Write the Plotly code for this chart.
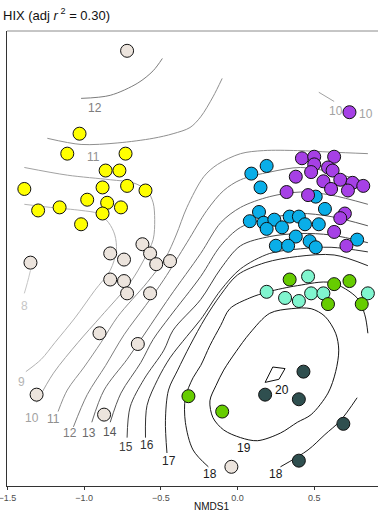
import plotly.graph_objects as go

# ---- site scores (NMDS1, NMDS2) by group ----
yellow_x = [-1.03, -1.11, -0.73, -0.86, -0.77, -1.39, -0.88, -0.72, -0.60, -0.98, -0.85, -0.76, -1.30, -1.16, -0.88, -1.02]
yellow_y = [0.81, 0.68, 0.68, 0.57, 0.57, 0.45, 0.46, 0.47, 0.44, 0.38, 0.36, 0.33, 0.31, 0.33, 0.29, 0.22]
beige_x = [-0.72, -1.35, -0.83, -0.74, -0.62, -0.57, -0.53, -0.44, -0.83, -0.74, -0.72, -0.57, -0.90, -0.65, -1.31, -0.87, -0.04]
beige_y = [1.35, -0.03, 0.03, -0.01, 0.09, 0.03, -0.04, -0.02, -0.14, -0.15, -0.23, -0.23, -0.49, -0.56, -0.89, -1.02, -1.36]
blue_x = [0.09, 0.19, 0.15, 0.51, 0.14, 0.57, 0.08, 0.17, 0.24, 0.34, 0.40, 0.19, 0.29, 0.44, 0.53, 0.38, 0.25, 0.33, 0.47, 0.51, 0.78]
blue_y = [0.55, 0.60, 0.46, 0.40, 0.30, 0.32, 0.24, 0.23, 0.25, 0.27, 0.27, 0.19, 0.20, 0.22, 0.22, 0.14, 0.08, 0.08, 0.11, 0.07, 0.12]
purple_x = [0.42, 0.50, 0.63, 0.50, 0.48, 0.59, 0.62, 0.38, 0.56, 0.67, 0.75, 0.82, 0.61, 0.72, 0.32, 0.46, 0.70, 0.67, 0.63, 0.71, 0.73]
purple_y = [0.65, 0.66, 0.66, 0.61, 0.56, 0.59, 0.57, 0.53, 0.50, 0.51, 0.49, 0.47, 0.45, 0.44, 0.43, 0.41, 0.29, 0.26, 0.17, 0.08, 0.95]
aqua_x = [0.46, 0.19, 0.31, 0.40, 0.48, 0.56, 0.85]
aqua_y = [-0.12, -0.22, -0.26, -0.28, -0.23, -0.23, -0.23]
green_x = [0.34, 0.63, 0.73, 0.59, 0.81, -0.32, -0.10]
green_y = [-0.14, -0.17, -0.15, -0.30, -0.30, -0.90, -1.00]
dark_x = [0.43, 0.18, 0.40, 0.69, 0.40]
dark_y = [-0.74, -0.89, -0.92, -1.08, -1.32]

# ---- fitted HIX surface: contour lines (level, NMDS1, NMDS2) ----
c8_x = [-1.35, -1.37, -1.39]
c8_y = [-0.08, -0.16, -0.23]
c9_x = [-1.39, -1.22, -1.02, -0.91, -0.84, -0.80, -0.79, -0.83, -0.93, -1.06, -1.19, -1.28, -1.38]
c9_y = [0.35, 0.33, 0.31, 0.29, 0.23, 0.15, 0.05, -0.08, -0.21, -0.39, -0.55, -0.66, -0.74]
c10a_x = [-1.39, -1.11, -0.83, -0.68, -0.59, -0.55, -0.54, -0.55, -0.61, -0.70, -0.89, -1.04, -1.20, -1.31]
c10a_y = [0.59, 0.54, 0.51, 0.49, 0.44, 0.36, 0.25, 0.12, -0.01, -0.16, -0.38, -0.55, -0.75, -0.94]
c10b_x = [0.53, 0.63]
c10b_y = [1.08, 1.02]
c11a_x = [-1.24, -1.02, -0.78, -0.55, -0.42, -0.31, -0.24, -0.16, -0.10]
c11a_y = [0.78, 0.74, 0.75, 0.78, 0.81, 0.85, 0.92, 1.05, 1.17]
c11b_x = [-1.17, -1.11, -1.00, -0.89, -0.78, -0.59, -0.47, -0.40, -0.33, -0.22, -0.13, 0.02, 0.17, 0.39, 0.61, 0.85]
c11b_y = [-1.00, -0.86, -0.71, -0.55, -0.38, -0.16, 0.00, 0.15, 0.33, 0.53, 0.61, 0.68, 0.70, 0.70, 0.69, 0.68]
c12a_x = [-1.02, -0.83, -0.65, -0.55, -0.49]
c12a_y = [1.04, 1.06, 1.14, 1.22, 1.30]
c12b_x = [-1.07, -0.98, -0.86, -0.74, -0.60, -0.48, -0.33, -0.20, -0.09, 0.02, 0.21, 0.41, 0.61, 0.85]
c12b_y = [-1.10, -0.89, -0.70, -0.50, -0.31, -0.14, 0.10, 0.31, 0.44, 0.51, 0.56, 0.59, 0.56, 0.49]
c13_x = [-0.95, -0.87, -0.72, -0.63, -0.44, -0.24, -0.11, 0.02, 0.21, 0.41, 0.61, 0.85]
c13_y = [-1.07, -0.86, -0.66, -0.53, -0.25, 0.03, 0.23, 0.33, 0.40, 0.43, 0.41, 0.35]
c14_x = [-0.83, -0.76, -0.63, -0.55, -0.44, -0.24, -0.11, 0.02, 0.21, 0.41, 0.61, 0.85]
c14_y = [-1.07, -0.88, -0.68, -0.53, -0.38, -0.12, 0.08, 0.20, 0.26, 0.29, 0.27, 0.21]
c15_x = [-0.72, -0.70, -0.61, -0.48, -0.42, -0.24, -0.11, 0.02, 0.21, 0.41, 0.61, 0.85]
c15_y = [-1.17, -0.97, -0.79, -0.60, -0.47, -0.27, -0.07, 0.08, 0.14, 0.16, 0.15, 0.10]
c16_x = [-0.60, -0.59, -0.52, -0.44, -0.33, -0.24, -0.11, 0.02, 0.21, 0.41, 0.61, 0.85]
c16_y = [-1.17, -0.96, -0.79, -0.65, -0.51, -0.40, -0.21, -0.07, 0.03, 0.06, 0.07, 0.04]
c17_x = [-0.46, -0.47, -0.45, -0.39, -0.31, -0.21, -0.11, 0.00, 0.18, 0.39, 0.63, 0.85]
c17_y = [-1.27, -1.06, -0.86, -0.73, -0.57, -0.39, -0.24, -0.11, -0.03, 0.01, 0.02, -0.05]
c18a_x = [-0.19, -0.29, -0.34, -0.34, -0.29, -0.24, -0.18, -0.11, -0.05, 0.08, 0.20, 0.39, 0.61, 0.78, 0.83, 0.85]
c18a_y = [-1.36, -1.25, -1.07, -0.91, -0.78, -0.70, -0.57, -0.44, -0.33, -0.26, -0.22, -0.18, -0.16, -0.26, -0.37, -0.49]
c18b_x = [0.28, 0.46, 0.57, 0.67, 0.78]
c18b_y = [-1.36, -1.25, -1.15, -1.06, -0.91]
c19_x = [0.21, 0.35, 0.48, 0.57, 0.64, 0.66, 0.64, 0.59, 0.48, 0.39, 0.28, 0.13, 0.02, -0.09, -0.16, -0.18, -0.14, -0.09, -0.01, 0.08, 0.21]
c19_y = [-0.36, -0.33, -0.33, -0.38, -0.49, -0.60, -0.74, -0.88, -1.02, -1.07, -1.14, -1.19, -1.17, -1.12, -1.04, -0.93, -0.83, -0.73, -0.61, -0.49, -0.36]
c20_x = [0.18, 0.23, 0.31, 0.27, 0.18]
c20_y = [-0.81, -0.71, -0.72, -0.79, -0.81]

contours = [
    (8, c8_x, c8_y), (9, c9_x, c9_y), (10, c10a_x, c10a_y), (10, c10b_x, c10b_y),
    (11, c11a_x, c11a_y), (11, c11b_x, c11b_y), (12, c12a_x, c12a_y), (12, c12b_x, c12b_y),
    (13, c13_x, c13_y), (14, c14_x, c14_y), (15, c15_x, c15_y), (16, c16_x, c16_y),
    (17, c17_x, c17_y), (18, c18a_x, c18a_y), (18, c18b_x, c18b_y), (19, c19_x, c19_y),
    (20, c20_x, c20_y),
]

# ---- contour labels ----
label_text = ["12", "11", "10", "10", "8", "9", "10", "11", "12", "13", "14", "15", "16", "17", "18", "18", "19", "20"]
label_level = [12, 11, 10, 10, 8, 9, 10, 11, 12, 13, 14, 15, 16, 17, 18, 18, 19, 20]
label_x = [-0.93, -0.94, 0.64, 0.84, -1.39, -1.41, -1.34, -1.20, -1.09, -0.97, -0.83, -0.73, -0.59, -0.45, -0.18, 0.25, 0.04, 0.29]
label_y = [0.98, 0.66, 0.96, 0.94, -0.31, -0.81, -1.04, -1.05, -1.14, -1.14, -1.13, -1.23, -1.22, -1.32, -1.41, -1.41, -1.24, -0.86]

tick_vals = [-1.5, -1.0, -0.5, 0.0, 0.5]
tick_text = ["\u22121.5", "\u22121.0", "\u22120.5", "0.0", "0.5"]

level_color = {8: "#c6c6c6", 9: "#b3b3b3", 10: "#a2a2a2", 11: "#8f8f8f", 12: "#7d7d7d",
               13: "#6a6a6a", 14: "#565656", 15: "#404040", 16: "#313131", 17: "#232323",
               18: "#1a1a1a", 19: "#141414", 20: "#0e0e0e"}

FONT = "Liberation Sans, Arial, Helvetica, sans-serif"

fig = go.Figure()

for lev, xs, ys in contours:
    fig.add_trace(go.Scatter(
        x=xs, y=ys, mode="lines",
        line=dict(color=level_color[lev], width=1,
                  shape="linear" if lev == 20 else "spline", smoothing=0.9),
        hoverinfo="skip", showlegend=False))

groups = [
    (blue_x, blue_y, "#0aaee8"),
    (purple_x, purple_y, "#a640e6"),
    (aqua_x, aqua_y, "#80f5cf"),
    (green_x, green_y, "#66cc00"),
    (dark_x, dark_y, "#2f4f4f"),
    (yellow_x, yellow_y, "#ffff00"),
    (beige_x, beige_y, "#ece4dd"),
]
for xs, ys, col in groups:
    fig.add_trace(go.Scatter(
        x=xs, y=ys, mode="markers",
        marker=dict(size=13, color=col, line=dict(color="#111111", width=1)),
        showlegend=False))

for t, lev, x, y in zip(label_text, label_level, label_x, label_y):
    fig.add_annotation(x=x, y=y, text=t, showarrow=False, xanchor="center", yanchor="middle",
                       font=dict(size=12, color=level_color[lev], family=FONT))

fig.add_annotation(x=-0.17, y=-0.044, xref="x", yref="paper", text="NMDS1", showarrow=False,
                   xanchor="center", yanchor="middle", font=dict(size=10, color="#111111", family=FONT))

fig.add_shape(type="line", xref="paper", yref="paper", x0=0, x1=1, y0=1, y1=1,
              line=dict(color="#8c8c8c", width=1))

fig.update_layout(
    width=378, height=512,
    margin=dict(l=7, r=0, t=31, b=26),
    paper_bgcolor="white", plot_bgcolor="white",
    font=dict(family=FONT),
    title=dict(text="HIX (adj <i>r</i><sup> 2</sup> = 0.30)", x=3 / 378, xanchor="left", xref="container",
               y=1 - 15 / 512, yanchor="middle", yref="container",
               font=dict(size=13, color="#111111", family=FONT)),
    xaxis=dict(range=[-1.503, 0.916], showgrid=False, zeroline=False, showline=True,
               linecolor="#333333", linewidth=1, ticks="outside", ticklen=3, tickcolor="#333333",
               tickvals=tick_vals, ticktext=tick_text, ticklabeloverflow="allow",
               tickfont=dict(size=9, color="#4d4d4d", family=FONT)),
    yaxis=dict(range=[-1.485, 1.479], showgrid=False, zeroline=False, showline=True,
               linecolor="#333333", linewidth=1, showticklabels=False, ticks=""),
)

fig.write_html("out.html", config={"displayModeBar": False},
               post_script="document.body.style.margin='0';document.body.style.padding='0';")
